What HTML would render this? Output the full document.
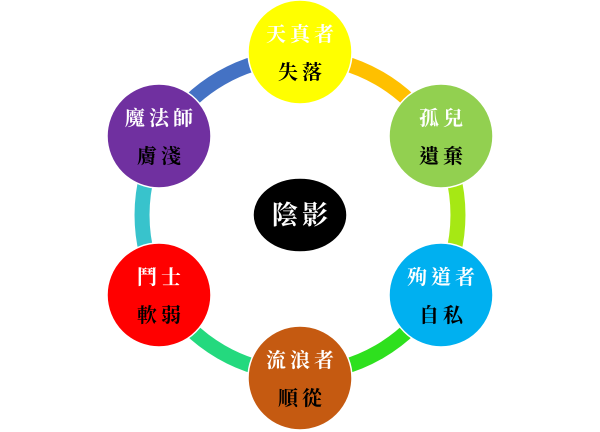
<!DOCTYPE html>
<html><head><meta charset="utf-8"><style>
html,body{margin:0;padding:0;background:#fff;width:600px;height:432px;overflow:hidden}
svg text{font-family:"Liberation Serif","Noto Serif CJK TC","Noto Serif CJK SC",serif;font-size:20px;text-anchor:middle;font-weight:bold;letter-spacing:4px}
</style></head><body>
<svg width="600" height="432" viewBox="0 0 600 432" xmlns="http://www.w3.org/2000/svg">
<g fill="none" stroke-width="15">
<path d="M300 57 A158 158 0 0 1 436.8 136" stroke="#FFC000"/>
<path d="M436.8 136 A158 158 0 0 1 436.8 294" stroke="#A6E814"/>
<path d="M436.8 294 A158 158 0 0 1 300 373" stroke="#2EE01E"/>
<path d="M300 373 A158 158 0 0 1 163.2 294" stroke="#24D97E"/>
<path d="M163.2 294 A158 158 0 0 1 163.2 136" stroke="#38C3CC"/>
<path d="M163.2 136 A158 158 0 0 1 300 57" stroke="#4472C4"/>
</g>
<g stroke="#fff" stroke-width="1.5">
<circle cx="300" cy="52" r="52" fill="#FFFF00"/>
<circle cx="441" cy="136" r="52" fill="#92D050"/>
<circle cx="441" cy="295" r="52" fill="#00B0F0"/>
<circle cx="300" cy="378" r="52" fill="#C55A11"/>
<circle cx="159" cy="295" r="52" fill="#FF0000"/>
<circle cx="159" cy="136" r="52" fill="#7030A0"/>
<ellipse cx="300" cy="215" rx="47" ry="37" fill="#000"/>
</g>
<g fill="#fff">
<text x="302" y="41">天真者</text>
<text x="443" y="125">孤兒</text>
<text x="443" y="284">殉道者</text>
<text x="302" y="367">流浪者</text>
<text x="161" y="284">鬥士</text>
<text x="161" y="125">魔法師</text>
<text x="302" y="224" style="font-size:26px">陰影</text>
</g>
<g fill="#000">
<text x="302" y="79">失落</text>
<text x="443" y="163">遺棄</text>
<text x="443" y="322">自私</text>
<text x="302" y="405">順從</text>
<text x="161" y="322">軟弱</text>
<text x="161" y="163">膚淺</text>
</g>
</svg>
</body></html>
